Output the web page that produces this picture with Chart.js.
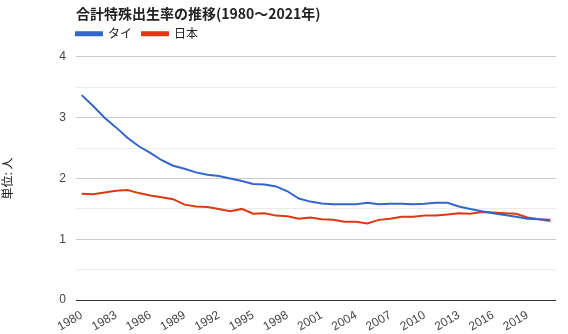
<!DOCTYPE html>
<html>
<head>
<meta charset="utf-8">
<script src="https://cdn.jsdelivr.net/npm/chart.js@4"></script>
<style>
    html, body { margin: 0; padding: 0; background: #fff; }
    #wrap { width: 568px; height: 334px; }
</style>
</head>
<body>
<div id="wrap"><canvas id="tfr-chart"></canvas></div>
<script>

// Data
const years = [];
for (let y = 1980; y <= 2021; y++) years.push(String(y));

const thailand = [
    3.37, 3.19, 3.00, 2.84, 2.67, 2.53, 2.42, 2.30, 2.21, 2.16,
    2.10, 2.06, 2.04, 2.00, 1.96, 1.91, 1.90, 1.87, 1.79, 1.67,
    1.62, 1.59, 1.575, 1.575, 1.575, 1.60, 1.575, 1.585, 1.585, 1.575,
    1.585, 1.60, 1.60, 1.54, 1.50, 1.46, 1.43, 1.40, 1.37, 1.34,
    1.33, 1.32
];

const japan = [
    1.75, 1.74, 1.77, 1.80, 1.81, 1.76, 1.72, 1.69, 1.66, 1.57,
    1.54, 1.53, 1.50, 1.46, 1.50, 1.42, 1.43, 1.39, 1.38, 1.34,
    1.36, 1.33, 1.32, 1.29, 1.29, 1.26, 1.32, 1.34, 1.37, 1.37,
    1.39, 1.39, 1.41, 1.43, 1.42, 1.45, 1.44, 1.43, 1.42, 1.36,
    1.33, 1.30
];

const seriesNames = ['タイ', '日本'];
const seriesColors = ['#3366cc', '#dc3912'];
const yTicks = [0, 1, 2, 3, 4];

const fontFamily = "'Liberation Sans', Arial, 'Noto Sans CJK JP', sans-serif";
const jpFont = "'Noto Sans CJK JP', sans-serif";

// move title + legend to the left edge of the plot area
const alignToArea = {
    id: 'alignToArea',
    afterLayout(chart) {
        const left = chart.chartArea.left;
        chart.titleBlock.left = left;
        chart.titleBlock.top += 1;
        chart.legend.left = left - 10;
        chart.legend.top -= 7;
    }
};

const chart = new Chart(document.getElementById('tfr-chart'), {
    type: 'line',
    data: {
        labels: years,
        datasets: [{
            label: seriesNames[0],
            data: thailand,
            borderColor: seriesColors[0],
            backgroundColor: seriesColors[0],
            borderWidth: 2,
            pointRadius: 0,
            tension: 0
        }, {
            label: seriesNames[1],
            data: japan,
            borderColor: seriesColors[1],
            backgroundColor: seriesColors[1],
            borderWidth: 2,
            pointRadius: 0,
            tension: 0
        }]
    },
    options: {
        responsive: true,
        maintainAspectRatio: false,
        animation: false,
        layout: {
            padding: { top: 4, right: 12, bottom: 0, left: 0 }
        },
        plugins: {
            title: {
                display: true,
                text: '合計特殊出生率の推移(1980～2021年)',
                align: 'start',
                color: '#222',
                font: { family: jpFont, size: 14, weight: 'bold' },
                padding: { top: 0, bottom: 4 }
            },
            legend: {
                align: 'start',
                labels: {
                    boxWidth: 26,
                    boxHeight: 3,
                    color: '#222',
                    font: { family: jpFont, size: 12 },
                    padding: 10
                }
            },
            tooltip: { enabled: false }
        },
        scales: {
            x: {
                offset: true,
                grid: { display: false },
                border: { display: false },
                ticks: {
                    autoSkip: false,
                    maxRotation: 30,
                    minRotation: 30,
                    color: '#444',
                    font: { family: fontFamily, size: 12 },
                    padding: 0,
                    callback: function (value, index) {
                        return index % 3 === 0 && index < 40 ? years[index] : null;
                    }
                }
            },
            y: {
                min: 0,
                max: 4,
                border: { display: false },
                afterFit: function (scale) {
                    scale.width = 76;
                },
                title: {
                    display: true,
                    text: '単位: 人',
                    color: '#222',
                    font: { family: jpFont, size: 12 },
                    padding: { top: 0, bottom: 0 }
                },
                grid: {
                    drawTicks: false,
                    color: function (ctx) {
                        const v = ctx.tick.value;
                        if (v === 0) return '#333';
                        return Number.isInteger(v) ? '#cccccc' : '#ebebeb';
                    }
                },
                ticks: {
                    stepSize: 0.5,
                    color: '#444',
                    padding: 10,
                    font: { family: fontFamily, size: 12 },
                    callback: function (value) {
                        return yTicks.includes(value) ? String(value) : '';
                    }
                }
            }
        }
    },
    plugins: [alignToArea]
});

</script>
</body>
</html>
